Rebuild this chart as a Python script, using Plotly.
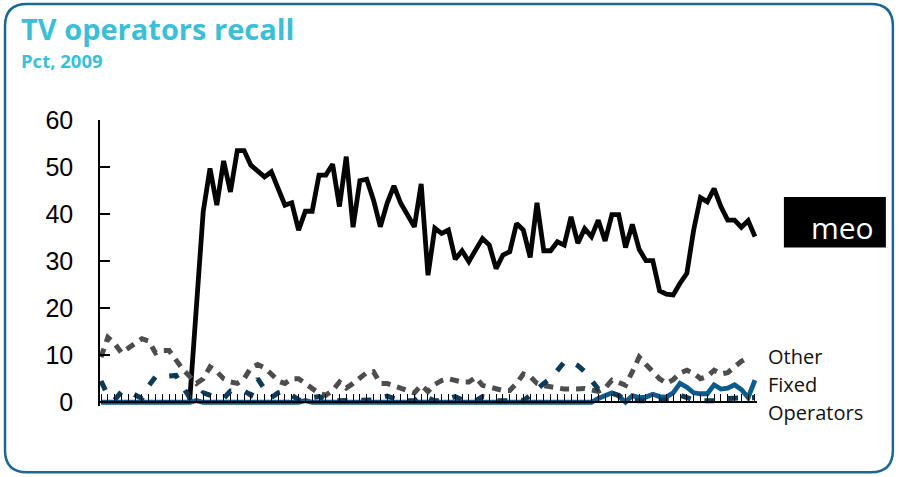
import plotly.graph_objects as go

# ---------------- data ----------------
periods = list(range(97))

meo = [None] * 13 + [
    0, 19, 40.5, 49.7, 41.9, 51.3, 44.7, 53.5, 53.5, 50.4,
    49.2, 47.9, 49.0, 45.3, 41.9, 42.4, 36.6, 40.6, 40.6, 48.3,
    48.3, 50.6, 41.6, 52.2, 37.2, 47.1, 47.4, 43.0, 37.3, 42.3,
    46.0, 42.3, 39.6, 37.3, 46.4, 27.0, 37.0, 35.9, 36.6, 30.4,
    32.2, 29.9, 32.4, 34.8, 33.4, 28.4, 31.3, 32.0, 38.0, 36.6,
    30.8, 42.4, 32.2, 32.2, 34.1, 33.4, 39.4, 33.8, 36.9, 35.2,
    38.7, 34.3, 39.9, 39.9, 32.9, 37.8, 32.5, 30.1, 30.1, 23.7,
    23.0, 22.8, 25.3, 27.4, 36.6, 43.5, 42.6, 45.4, 41.6, 38.7,
    38.7, 37.2, 38.6, 35.2]

other_a = [
    9.6, 13.8, 12.5, 10.5, 11.5, 12.5, 13.5, 13.0, 10.5, 11.0,
    11.0, 9.0, 7.0, 5.5, 4.0, 5.0, 7.5, 6.5, 5.0, 4.3,
    4.0, 5.0, 7.3, 8.0, 7.3, 6.0, 4.5, 4.0, 5.0, 5.0,
    4.0, 2.8, 1.9, 1.5, 2.5, 4.3, 3.0, 4.0, 5.0, 6.3,
    6.5, 4.0, 4.0, 3.5, 3.0, 2.5, 2.0, 3.6, 2.3, 3.8,
    4.6, 5.0, 4.6, 4.3, 4.3, 5.3, 3.6, 3.3, 2.9, 2.5,
    2.5, 4.0, 6.0, 5.5, 4.0, 3.5, 3.3, 3.0, 2.8, 2.8,
    2.9, 2.9, 2.6, 2.3, 3.0, 4.7, 4.2, 3.6, 6.5, 9.6,
    8.0, 6.5, 5.0, 4.0, 4.8, 6.2, 6.8, 6.2, 5.0, 5.5,
    6.8, 6.0, 6.3, 7.5, 8.7, 9.5, None]

other_b = [
    4.5, 1.5, 0.5, 2.2, 2.3, 1.5, 0.8, 3.5, 5.4, 5.5,
    5.5, 5.7, 3.3, 1.0, 0.5, 2.0, 1.5, 1.0, 0.8, 2.4,
    2.4, 2.4, 1.5, 5.0, 2.8, 1.0, 2.0, 2.4, 1.5, 0.5,
    0.3, 1.0, 1.2, 0.5, 0.3, 0.3, 0.3, 0.3, 0.3, 0.3,
    0.5, 1.0, 1.3, 0.8, 0.3, 0.3, 0.3, 1.5, 1.0, 0.3,
    0.3, 0.8, 1.2, 0.5, 0.3, 0.3, 1.2, 1.0, 0.3, 0.3,
    0.3, 0.8, 0.3, 1.5, 2.8, 4.0, 5.0, 6.8, 8.5, 8.6,
    7.8, 6.5, 4.5, 2.8, 2.3, 2.0, 1.5, 0.5, 0.3, 0.3,
    0.3, 0.3, 0.3, 0.3, 0.5, 1.5, 1.0, 0.5, 0.3, 0.3,
    0.3, 0.3, 0.8, 0.8, 0.8, 1.0, 1.0]

other_c = [0] * 14 + [0.35] + [0] * 15 + [0.35] + [0] * 42 + [
    0.8, 1.5, 2.0, 1.3, 0.0, 1.4, 1.0, 1.1, 1.7, 1.2,
    1.1, 2.0, 4.0, 3.2, 2.0, 1.8, 1.8, 3.7, 2.8, 3.0,
    3.7, 2.7, 1.0, 4.7]

y_ticks = [0, 10, 20, 30, 40, 50, 60]
title_text = "TV operators recall"
subtitle_text = "Pct, 2009"
logo_text = "meo"
label_lines = ["Other", "Fixed", "Operators"]

# ---------------- layout geometry ----------------
W, H = 899, 477
X_RANGE = [-0.15, 96.3]
Y_RANGE = [-0.8, 60]
ML, MT = 100, 120
PW = 657.1
PH = 285.76
MR = W - ML - PW
MB = H - MT - PH


def xp(px):
    return (px - ML) / PW


def yp(py):
    return (MT + PH - py) / PH


fig = go.Figure()

fig.add_trace(go.Scatter(x=periods, y=meo, mode="lines",
                         line=dict(color="#050505", width=4.8),
                         connectgaps=False, hoverinfo="skip"))
fig.add_trace(go.Scatter(x=periods, y=other_a, mode="lines",
                         line=dict(color="#4d4d4d", width=5, dash="9px,7px"),
                         hoverinfo="skip"))
fig.add_trace(go.Scatter(x=periods, y=other_c, mode="lines",
                         line=dict(color="#0b5b8c", width=4.8),
                         hoverinfo="skip"))
fig.add_trace(go.Scatter(x=periods, y=other_b, mode="lines",
                         line=dict(color="#0c3a57", width=5, dash="10px,14px"),
                         hoverinfo="skip"))

# rounded border
r = 22
path = (
    f"M {xp(5 + r)},{yp(4)} L {xp(893 - r)},{yp(4)} "
    f"Q {xp(893)},{yp(4)} {xp(893)},{yp(4 + r)} "
    f"L {xp(893)},{yp(472 - r)} "
    f"Q {xp(893)},{yp(472)} {xp(893 - r)},{yp(472)} "
    f"L {xp(5 + r)},{yp(472)} "
    f"Q {xp(5)},{yp(472)} {xp(5)},{yp(472 - r)} "
    f"L {xp(5)},{yp(4 + r)} "
    f"Q {xp(5)},{yp(4)} {xp(5 + r)},{yp(4)} Z"
)
fig.add_shape(type="path", path=path, xref="paper", yref="paper",
              line=dict(color="#1b6791", width=2.5), layer="below")

# logo box
fig.add_shape(type="rect", xref="paper", yref="paper",
              x0=xp(784), x1=xp(886), y0=yp(247.5), y1=yp(197),
              fillcolor="#000000", line=dict(width=0))

annotations = [
    dict(text=f"<b>{title_text}</b>", x=xp(19), y=yp(29), xanchor="left",
         yanchor="middle", font=dict(family="Open Sans", size=29, color="#3bbfd8")),
    dict(text=f"<b>{subtitle_text}</b>", x=xp(19), y=yp(61), xanchor="left",
         yanchor="middle", font=dict(family="Open Sans", size=18.5, color="#3bbfd8")),
    dict(text=logo_text, x=xp(843), y=yp(227), xanchor="center",
         yanchor="middle", font=dict(family="Open Sans", size=30, color="#ffffff")),
]
for i, t in enumerate(label_lines):
    annotations.append(dict(text=t, x=xp(766), y=yp(356 + 28 * i), xanchor="left",
                            yanchor="middle",
                            font=dict(family="Open Sans", size=20, color="#111111")))
for a in annotations:
    a.update(xref="paper", yref="paper", showarrow=False)

fig.update_layout(
    width=W, height=H,
    margin=dict(l=ML, r=MR, t=MT, b=MB, pad=0),
    paper_bgcolor="white", plot_bgcolor="white",
    showlegend=False,
    annotations=annotations,
    xaxis=dict(range=X_RANGE, showgrid=False, zeroline=False,
               showline=True, linecolor="#000000", linewidth=1.5,
               ticks="inside", ticklen=7, tickwidth=1.3, tickcolor="#000000",
               tickmode="linear", tick0=0, dtick=1, showticklabels=False,
               anchor="free", position=yp(402)),
    yaxis=dict(range=Y_RANGE, showgrid=False, zeroline=False,
               showline=True, linecolor="#000000", linewidth=1.5,
               ticks="inside", ticklen=10, tickwidth=1.5, tickcolor="#000000",
               tickvals=y_ticks, ticklabelstandoff=20,
               tickfont=dict(family="Liberation Sans, Arial", size=25, color="#000000")),
)

fig.write_html("out.html")
